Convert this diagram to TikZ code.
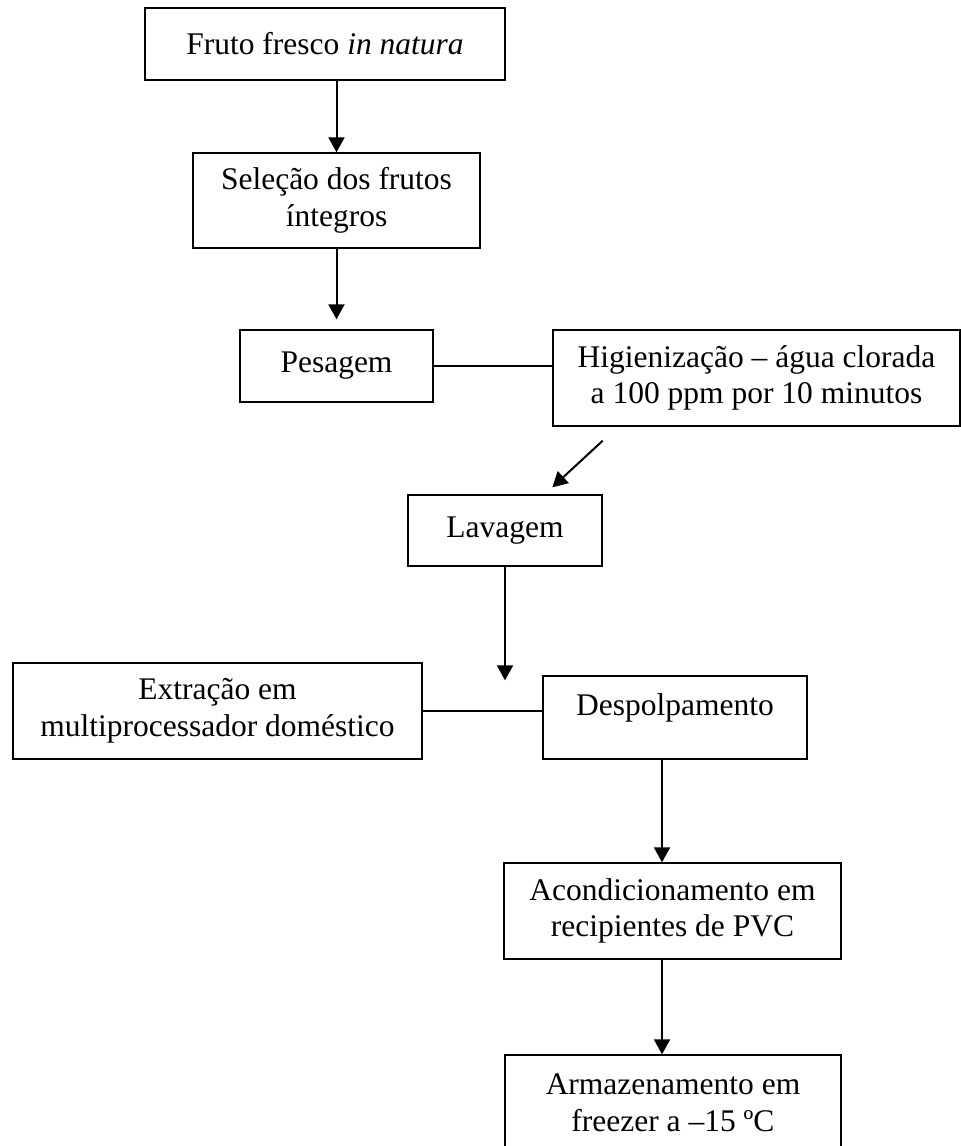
\documentclass[tikz,border=0pt]{standalone}
\usepackage{fontspec}
\setmainfont{Liberation Serif}
\usetikzlibrary{arrows.meta}

\begin{document}
\begin{tikzpicture}[x=0.5pt,y=-0.5pt,
		font=\fontsize{15.75}{18.3}\selectfont,
		>={Triangle[length=7.5pt,width=8pt]},
		caixa/.style={draw,line width=0.7pt,align=center,inner xsep=2pt,inner ysep=0pt}]
		\clip (0,0) rectangle (961,1146);
		\fill[white] (0,0) rectangle (961,1146);
		
		\node[caixa,minimum width=180pt,minimum height=36pt] at (325,44) (fruto) {Fruto fresco \textit{in natura}};
		\node[caixa,minimum width=143.5pt,minimum height=47.5pt] at (336.5,200.5) (selecao) {Seleção dos frutos\\íntegros};
		\node[caixa,minimum width=96.5pt,minimum height=36pt] at (336.5,366) (pesagem) {Pesagem};
		\node[caixa,minimum width=203.5pt,minimum height=48pt] at (756.5,378) (higien) {Higienização – água clorada\\a 100 ppm por 10 minutos};
		\node[caixa,minimum width=97pt,minimum height=35.5pt] at (505,530.5) (lavagem) {Lavagem};
		\node[caixa,minimum width=204.5pt,minimum height=48pt] at (217.5,711) (extracao) {Extração em\\multiprocessador doméstico};
		\node[caixa,minimum width=132pt,text height=19.5pt,text depth=22pt] at (675,717.5) (despolp) {Despolpamento};
		\node[caixa,minimum width=168.5pt,minimum height=48pt] at (672.5,911) (acond) {Acondicionamento em\\recipientes de PVC};
		\node[caixa,minimum width=168pt,minimum height=48pt] at (673,1103) (armaz) {Armazenamento em\\freezer a –15 ºC};
		\coordinate (eixo) at (662,0);
		
		\draw[->,line width=1pt] (fruto.south -| pesagem) -- (selecao.north -| pesagem);
		\draw[->,line width=1pt,shorten >=5pt] (selecao.south -| pesagem) -- (pesagem.north);
		\draw[line width=0.7pt] (pesagem.east) -- (pesagem.east -| higien.west);
		\draw[->,line width=1pt] ([yshift=-7pt]higien.south -| lavagem.east) -- ([yshift=3.5pt]lavagem.north -| higien.west);
		\draw[->,line width=1pt] (lavagem.south) -- ([yshift=-2.5pt]despolp.north -| lavagem.south);
		\draw[line width=0.7pt] (extracao.east) -- (extracao.east -| despolp.west);
		\draw[->,line width=1pt] (despolp.south -| eixo) -- (acond.north -| eixo);
		\draw[->,line width=1pt] (acond.south -| eixo) -- (armaz.north -| eixo);
	\end{tikzpicture}
\end{document}
